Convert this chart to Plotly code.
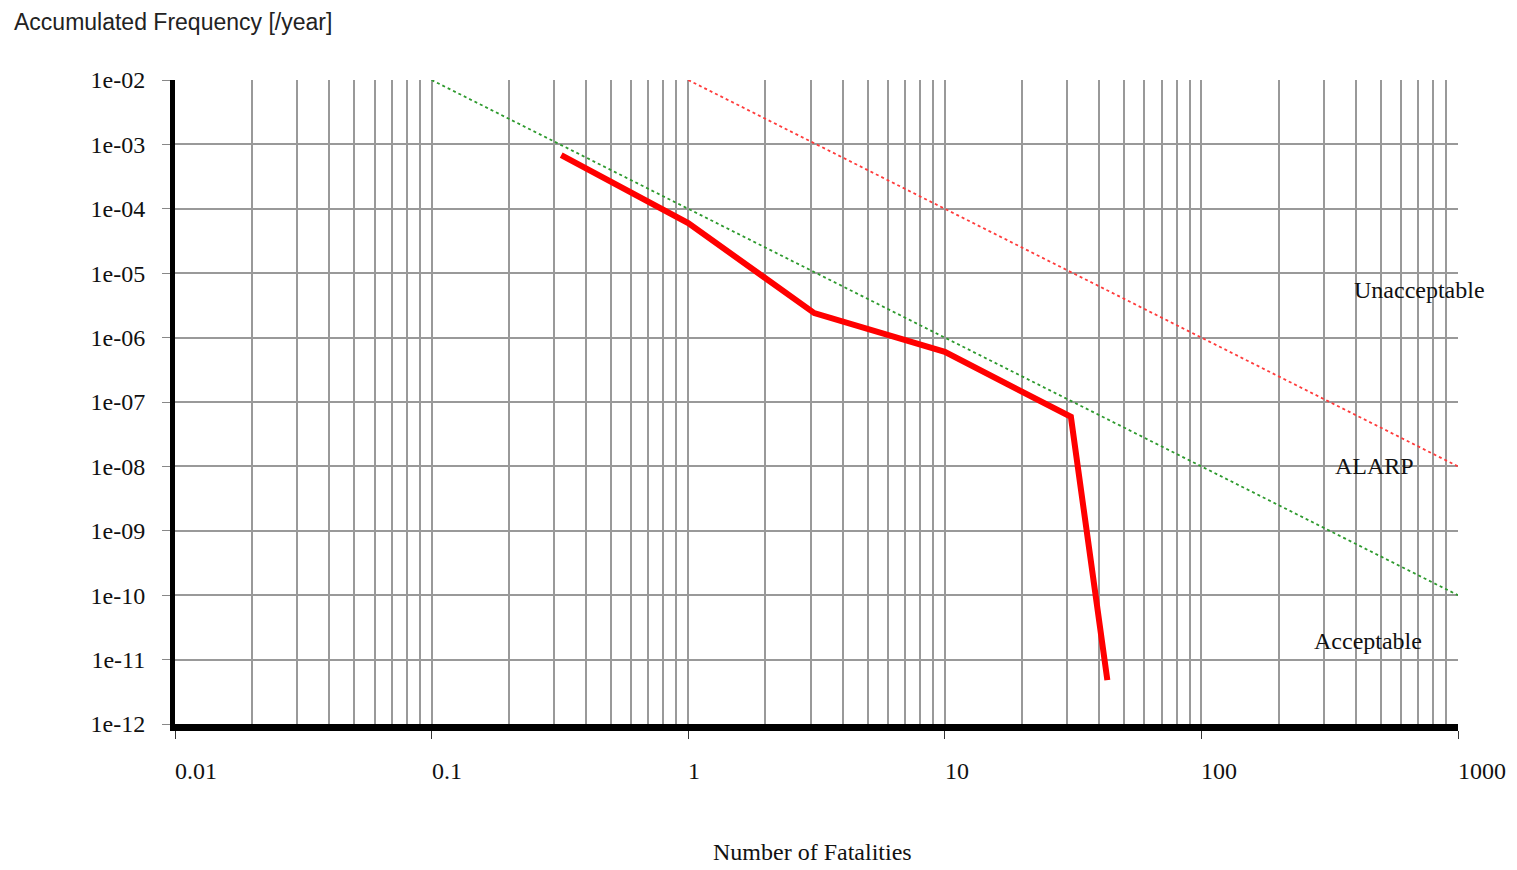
import plotly.graph_objects as go
import math

# Data
fatalities = [0.32, 1.0, 3.1, 10.0, 31.0, 43.0]
frequency = [6.8e-4, 6.0e-5, 2.4e-6, 6.0e-7, 5.9e-8, 4.8e-12]

upper_x = [1.0, 1000.0]
upper_y = [1e-2, 1e-8]
lower_x = [0.1, 1000.0]
lower_y = [1e-2, 1e-10]

x_ticks = [0.01, 0.1, 1, 10, 100, 1000]
x_tick_text = ["0.01", "0.1", "1", "10", "100", "1000"]
y_ticks = [1e-2, 1e-3, 1e-4, 1e-5, 1e-6, 1e-7, 1e-8, 1e-9, 1e-10, 1e-11, 1e-12]
y_tick_text = ["1e-02", "1e-03", "1e-04", "1e-05", "1e-06", "1e-07",
               "1e-08", "1e-09", "1e-10", "1e-11", "1e-12"]

region_labels = ["Unacceptable", "ALARP", "Acceptable"]
region_y = [10 ** -5.26, 10 ** -8.0, 10 ** -10.71]
region_xpaper = [0.970, 0.935, 0.930]

minor_vals = [d * m for d in x_ticks[:-1] for m in range(2, 10)]

SERIF = "Liberation Serif, Times New Roman, serif"
SANS = "Liberation Sans, Arial, sans-serif"
GRID = "#999999"

fig = go.Figure()
fig.add_trace(go.Scatter(x=lower_x, y=lower_y, mode="lines",
                         line=dict(color="#2e9a2e", width=1.8, dash="dot"),
                         hoverinfo="skip", showlegend=False))
fig.add_trace(go.Scatter(x=upper_x, y=upper_y, mode="lines",
                         line=dict(color="#ff3b3b", width=1.8, dash="dot"),
                         hoverinfo="skip", showlegend=False))
fig.add_trace(go.Scatter(x=fatalities, y=frequency, mode="lines",
                         line=dict(color="#ff0000", width=6),
                         showlegend=False))

annotations = []
for v, t in zip(x_ticks, x_tick_text):
    annotations.append(dict(x=math.log10(v), y=-0.073, xref="x", yref="paper",
                            text=t, showarrow=False, xanchor="left", yanchor="middle",
                            xshift=-2,
                            font=dict(family=SERIF, size=24, color="#111")))
for t, yv, xp in zip(region_labels, region_y, region_xpaper):
    annotations.append(dict(x=xp, y=math.log10(yv), xref="paper", yref="y",
                            text=t, showarrow=False, xanchor="center", yanchor="middle",
                            font=dict(family=SERIF, size=24, color="#111")))
annotations.append(dict(x=-0.127, y=1.09, xref="paper", yref="paper",
                        text="Accumulated Frequency [/year]", showarrow=False,
                        xanchor="left", yanchor="middle",
                        font=dict(family=SANS, size=23, color="#222")))
annotations.append(dict(x=0.497, y=-0.198, xref="paper", yref="paper",
                        text="Number of Fatalities", showarrow=False,
                        xanchor="center", yanchor="middle",
                        font=dict(family=SERIF, size=24, color="#111")))

fig.update_layout(
    width=1509, height=862,
    margin=dict(l=167, r=59, t=72, b=146),
    paper_bgcolor="white", plot_bgcolor="white",
    annotations=annotations,
    xaxis=dict(type="log", range=[-2, 3], tickvals=x_ticks, ticktext=x_tick_text,
               showticklabels=False, ticks="outside", ticklen=8, tickcolor="#333",
               showgrid=True, gridcolor=GRID, gridwidth=1.5,
               showline=True, linecolor="black", linewidth=7,
               minor=dict(tickvals=minor_vals, showgrid=True, gridcolor=GRID,
                          gridwidth=1.5, ticks=""),
               zeroline=False),
    yaxis=dict(type="log", range=[-12, -2], tickvals=y_ticks, ticktext=y_tick_text,
               ticks="outside", ticklen=8, tickcolor="#888",
               ticklabelstandoff=12,
               tickfont=dict(family=SERIF, size=24, color="#111"),
               showgrid=True, gridcolor=GRID, gridwidth=2,
               showline=True, linecolor="black", linewidth=5,
               zeroline=False),
)

fig.write_html("out.html")
